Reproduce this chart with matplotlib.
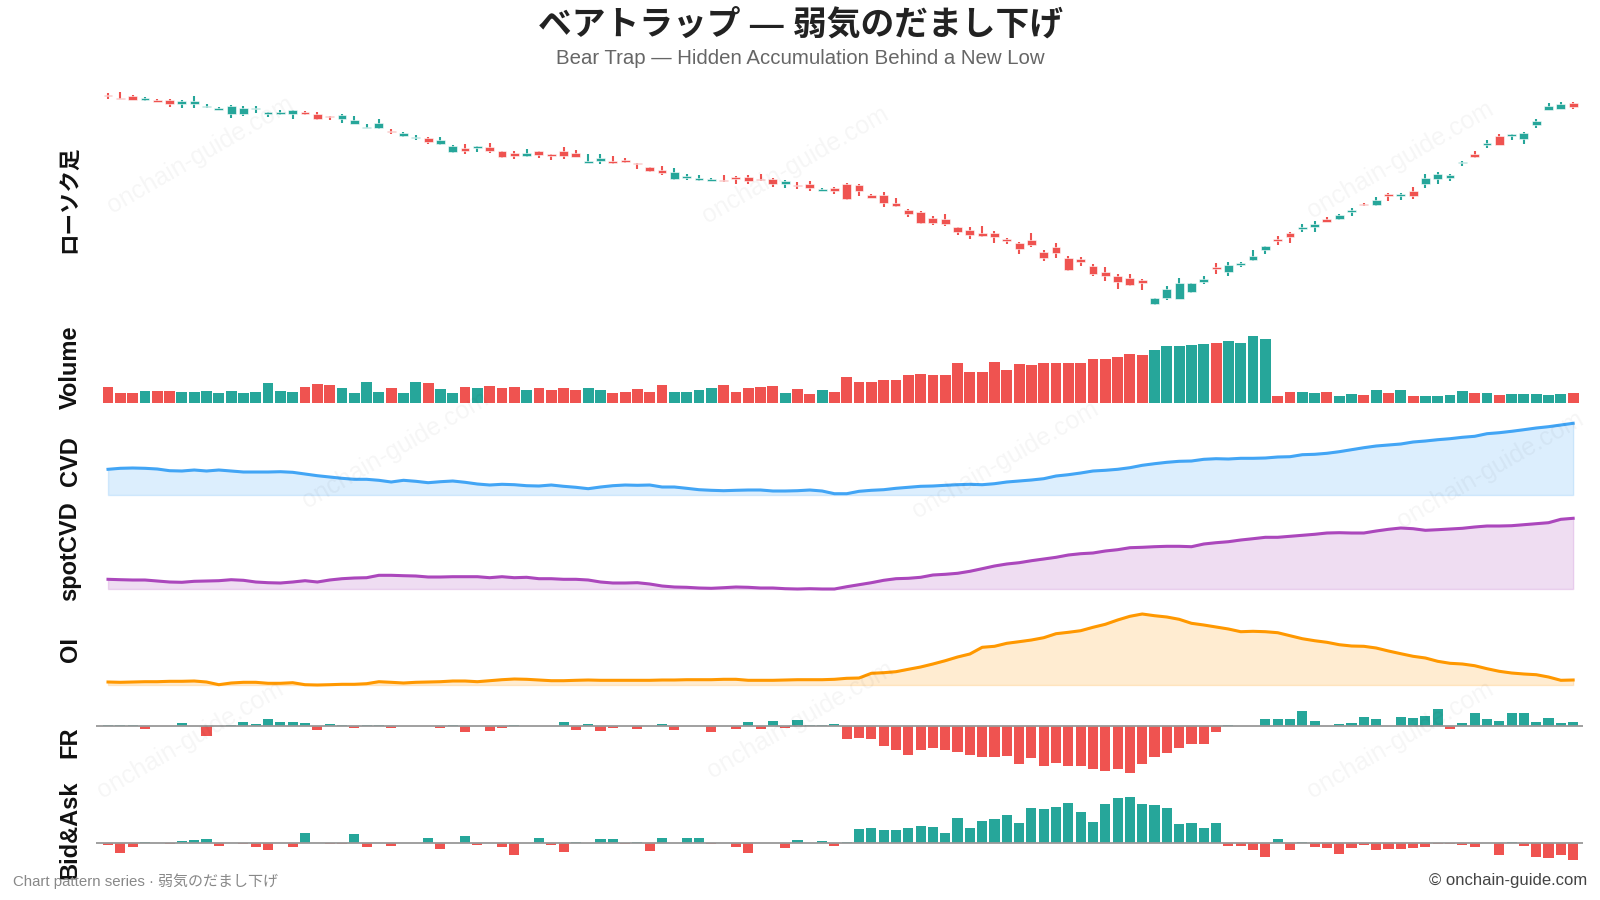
import numpy as np
import matplotlib.pyplot as plt

plt.rcParams['font.family'] = ['Liberation Sans', 'Noto Sans CJK JP', 'DejaVu Sans']

# ローソク足 (price, arbitrary units)
opens = [224.3, 221.8, 224.3, 220, 220, 220, 216, 216, 213.3, 210.3,
         206.3, 206, 210.7, 206.3, 205.7, 206.3, 208.3, 206.3, 204.3, 201.3,
         196, 192.3, 192.3, 189, 184.3, 182.3, 182.3, 176, 168.3, 172,
         172.3, 173, 169, 166.7, 164, 169, 166, 169, 167, 157.3,
         159.3, 159, 160, 156.7, 153, 150, 141, 142, 140, 139.3,
         140.3, 143.3, 143.3, 141.3, 141, 136.3, 135.3, 136.3, 129, 131.7,
         136.3, 135, 125.3, 125, 117, 110.3, 108.3, 102.3, 101, 93,
         90, 87.3, 87.3, 81.3, 77.3, 80, 68, 73.3, 62.3, 61.3,
         54.3, 48.3, 44.3, 42, 40.3, 16, 21.7, 21, 28, 38,
         53.3, 48, 55, 60, 70, 81.3, 87, 91.3, 93.3, 101,
         101.3, 108.3, 116.3, 115, 126.3, 124, 129, 136, 141, 142,
         156.7, 166, 175, 184, 184.3, 181, 195, 210, 211, 216.7]
closes = [224, 221.5, 220.3, 221.7, 218.3, 216.3, 219, 219, 214.3, 212,
          214, 212, 211.7, 208, 208.3, 210, 206.3, 201.3, 202.7, 205.3,
          200, 193.3, 197.3, 188, 187.3, 183.3, 178, 180, 174.3, 169,
          174, 169, 163, 164, 167, 165, 164.3, 164.3, 163, 159.3,
          162.3, 157, 158, 155.7, 149, 147, 148, 144.3, 142.3, 141,
          139, 141.3, 139, 140, 136.3, 139.3, 134, 132, 131.3, 129,
          120.7, 129, 122, 117, 113.7, 106, 96.7, 97.3, 95.7, 88,
          85, 84, 83, 79.3, 71, 75, 62.3, 67.3, 50, 58.3,
          46, 44, 38.3, 35.3, 37, 22, 31, 37.3, 37.3, 41,
          51, 55, 56.7, 64, 74, 79, 83.3, 93.3, 96.3, 98.3,
          105, 110.3, 115, 120, 124.3, 125.7, 124, 142, 146, 145,
          158, 163, 177, 175, 185.7, 187, 199, 214, 216, 213]
highs = [227.3, 228, 225, 223, 221, 221, 220, 224, 215.7, 213,
         215, 214, 214, 208, 209.7, 210, 209, 207.7, 204.3, 206,
         204, 196, 201, 191.3, 188.3, 185.3, 183.3, 182.7, 175, 176,
         174, 177, 169, 169.3, 170.7, 169, 166, 173, 170, 166,
         166, 164, 162, 157.3, 153, 154, 152, 146, 145, 142,
         145, 144, 145, 146, 142, 140, 138, 139, 132, 133,
         137, 136, 126, 128, 122, 111.3, 109.3, 104, 106, 93,
         92.7, 94, 89, 82, 78, 87, 70, 77, 64, 63,
         56, 53, 46, 46, 41, 22, 34, 42, 37.3, 44,
         57, 58, 58.3, 70, 74, 84, 88, 96, 99, 103.3,
         106, 112.3, 117.3, 123, 127.3, 127.3, 133, 146, 148, 146,
         159, 169, 180, 186, 186, 188, 201, 217, 218, 218]
lows = [220.7, 221, 220, 219, 218, 213.3, 212.3, 212.3, 211.7, 210.3,
        202.3, 204.3, 207.3, 203.3, 204.7, 201.3, 204.7, 200.3, 200.3, 197.3,
        196, 192.3, 191.3, 185.7, 182.7, 180.3, 176.3, 175.3, 167.3, 166,
        168, 167.3, 162.3, 161.3, 163.3, 162, 160, 161, 163, 157.3,
        156.3, 156.3, 157.3, 151.3, 148.3, 145.3, 140, 140, 139.3, 139,
        138.3, 136.3, 136.3, 139.3, 133.3, 132.3, 131.3, 129, 129, 126.3,
        120, 124, 122, 113, 113, 103.3, 96, 95, 94, 85,
        81, 83, 77, 76, 66, 73, 59, 62.3, 49, 54.3,
        44, 39.3, 31, 34.3, 30.3, 15, 20, 21, 27, 36,
        46, 44, 53, 59, 66, 75, 77, 88, 88, 98.3,
        100.3, 104.3, 114.3, 114, 119.3, 120.3, 121, 132.3, 136, 139,
        154, 162, 172, 175, 180, 176, 192, 210, 211, 211]

volume = [16, 10, 10, 12, 12, 12, 11, 11, 12, 10,
          12, 10, 11, 20, 12, 11, 16, 19, 18, 15,
          10, 21, 11, 15, 10, 21, 20, 14, 10, 16,
          15, 17, 15, 16, 13, 15, 13, 15, 13, 15,
          13, 10, 11, 14, 11, 18, 11, 11, 13, 15,
          18, 11, 15, 16, 17, 10, 14, 9, 13, 11,
          26, 21, 21, 23, 23, 28, 29, 28, 28, 40,
          31, 31, 41, 33, 39, 38, 40, 40, 40, 40,
          44, 44, 46, 49, 48, 53, 57, 57, 58, 59,
          60, 62, 60, 67, 64, 7, 11, 11, 10, 11,
          7, 9, 8, 13, 10, 13, 7, 7, 7, 8,
          12, 10, 10, 8, 9, 9, 9, 8, 9, 10]

cvd = [25.7, 26.7, 27, 26.7, 26, 24.3, 24, 25, 24, 25,
       24, 23, 23, 23, 23.3, 22.7, 21, 19.3, 18, 16.7,
       15.7, 15.7, 14.7, 13, 14.7, 13.7, 12.3, 13.3, 14, 12.7,
       11, 10, 10.7, 10.3, 9.3, 9, 10, 8.7, 7.7, 6.3,
       8, 9.3, 10, 9.7, 10, 8, 8, 6.7, 5.3, 4.7,
       4.3, 4.7, 5, 5, 4, 4, 4.3, 5, 4, 1.3,
       1.3, 3.7, 4.7, 5.3, 6.7, 7.7, 8.7, 9, 9.7, 10.3,
       10.7, 10.3, 11.3, 13, 14, 15, 16.3, 19, 20.3, 22,
       24, 24.7, 25.7, 27.3, 29.7, 31.3, 32.7, 33.7, 34, 35.7,
       36.3, 36, 36.7, 36.7, 37, 38, 38.3, 40.3, 40.7, 41.7,
       43.3, 45.3, 47.3, 49, 50, 51, 53, 54, 55.3, 56.3,
       57.7, 58.7, 61.3, 62.3, 63.7, 65.3, 67, 68.3, 70, 71.7]

spot_cvd = [9.7, 9.3, 9, 9, 8, 7, 6.7, 7.7, 8, 8.3,
            9.3, 8.7, 7, 6.3, 6, 7, 8.3, 7, 9, 10.3,
            11, 11.3, 13.7, 13.7, 13.3, 13, 12, 12, 12.3, 12.3,
            12.3, 11.3, 12.3, 11.3, 11.7, 10.3, 10.3, 9.7, 9.7, 9,
            7, 6, 6, 6.3, 5, 3, 2, 1.7, 1, 0.7,
            1.3, 2, 1.7, 1, 1, 0.3, 0, 0.3, 0, 0,
            2.3, 4.3, 6.3, 8.7, 10.3, 10.7, 11.7, 14, 14.7, 15.7,
            17.7, 20.3, 23, 25, 26.3, 28.3, 30, 31.7, 34, 35.3,
            36, 38, 39.3, 41.3, 41.7, 42.3, 42.7, 42.7, 42.3, 45,
            46.3, 47.3, 49, 50.3, 51.7, 51.7, 52.7, 53.7, 54.7, 56,
            56.3, 56, 56, 58, 59.7, 61, 60.3, 58.7, 59.3, 60,
            60.7, 62, 63, 63, 63.3, 64.3, 65.3, 66.3, 69.7, 70.7]

oi = [3, 2.7, 3, 3.3, 3.3, 3.7, 3.7, 4, 3, 0.3,
      2, 2.7, 2.7, 1.7, 1.7, 2.3, 0.3, 0, 0.3, 0.7,
      0.7, 1.3, 3.3, 2.7, 2, 2.7, 3, 3.3, 4, 4,
      3.3, 4.3, 5.3, 6, 5.7, 5, 4.3, 4.3, 4.7, 5,
      4.7, 4.7, 4.7, 4.7, 4.7, 5, 5, 5.3, 5.3, 5.3,
      5.7, 5.7, 4.7, 4.7, 4.7, 5, 5.3, 5.3, 5.3, 5.7,
      6.7, 7, 11.7, 12.3, 13.3, 15.7, 18, 21, 24.3, 28,
      31, 37.7, 38.7, 41.7, 43.3, 45, 47.3, 51.3, 52.7, 54.3,
      57.7, 60.7, 65, 68.7, 71, 69.3, 68, 65.7, 61.7, 60,
      58, 56, 53.3, 53.7, 53.3, 52.3, 49.3, 46.3, 44.3, 42.7,
      40.3, 39, 38.7, 37, 34, 31.3, 28.7, 27, 23.7, 21.7,
      21, 19.3, 16.3, 13.7, 12, 11, 10.3, 8, 4.7, 5]

funding = [1, 1, 1, -2.7, -0.3, 0, 3, 0, -9.7, -0.3,
           1.3, 4, 2.3, 7, 4, 4, 3, -3.7, 2, 1,
           -1.7, 1, 1, -1.7, -0.3, -0.3, 0, -1.7, 1, -6,
           -0.3, -4.7, -1.7, 1, 0, -0.3, 0, 4, -3.7, 2,
           -4.7, -1.7, 0, -2.7, 0, 2, -3.7, -0.3, -0.3, -6,
           -0.3, -2.7, 4, -2.7, 5, -1.7, 6.3, 1.3, 1.3, 2.3,
           -12.7, -11.7, -12.7, -19.7, -23.7, -28.7, -23.7, -21.7, -23.7, -25.7,
           -28.7, -30.7, -30.7, -29.7, -37.7, -31.7, -39.7, -36.7, -39.7, -39.7,
           -42.7, -44.7, -42.7, -46.7, -37.7, -30.7, -26.7, -21.7, -17.7, -17.7,
           -5.7, 1.3, 0, 0, 7, 7, 7, 15, 5, 0,
           2, 3, 9, 7, 0, 9, 8, 10, 17, -2.7,
           3, 13, 7, 5, 13, 13, 4, 8, 3, 4]

bid_ask = [-2.3, -10.3, -4.3, 1.3, 0, -1.3, 2.3, 3.3, 4.3, -3.3,
           0, -1.3, -4.3, -7.3, 0, -4.3, 10.3, 0, -1.3, -1.3,
           9.3, -4.3, 0, -3.3, 0, 0, 5.3, -6.3, 0, 7.3,
           -2.3, 0, -4.3, -12.3, 0, 5.3, -2.3, -9.3, 1.3, 0,
           4.3, 4.3, -1.3, 1.3, -8.3, 5.3, 0, 5.3, 5.3, -1.3,
           0, -4.3, -10.3, 0, 0, -5.3, 3.3, 0, 2.3, -3.3,
           1.3, 14.3, 15.3, 13.3, 13.3, 15.3, 17.3, 16.3, 10.3, 25.3,
           15.3, 22.3, 24.3, 28.3, 20.3, 35.3, 34.3, 36.3, 40.3, 31.3,
           21.3, 39.3, 45.3, 46.3, 39.3, 38.3, 35.3, 19.3, 20.3, 15.3,
           20.3, -3.3, -3.3, -7.3, -14.3, 4.3, -7.3, 1.3, -4.3, -5.3,
           -11.3, -5.3, -2.3, -7.3, -6.3, -6.3, -5.3, -4.3, -1.3, -1.3,
           -2.3, -4.3, 0, -12.3, 1.3, -3.3, -14.3, -15.3, -12.3, -17.3]

panel_labels = ['ローソク足', 'Volume', 'CVD', 'spotCVD', 'OI', 'FR', 'Bid&Ask']

UP = '#26a69a'
DOWN = '#ef5350'

o = np.array(opens)
c = np.array(closes)
h = np.array(highs)
l = np.array(lows)
x = np.arange(len(o))
cols = np.where(c >= o, UP, DOWN)

W, H = 1600, 900
fig = plt.figure(figsize=(16, 9), dpi=100)


def panel(top, bottom):
    ax = fig.add_axes([96 / W, 1 - bottom / H, (1583 - 96) / W, (bottom - top) / H])
    ax.set_xlim(-0.975, 119.8)
    ax.axis('off')
    return ax


# candles
ax = panel(85, 312)
ax.vlines(x, l, h, colors=cols, linewidth=1.5, zorder=2)
body = np.maximum(np.abs(c - o), 0.8)
ax.bar(x, body, bottom=np.minimum(o, c), width=0.72, color=cols,
       edgecolor='white', linewidth=0.4, zorder=3)
ax.set_ylim(8, 235)

# volume
ax = panel(328, 403)
ax.bar(x, volume, width=0.88, color=cols)
ax.set_ylim(0, 75)

# CVD / spotCVD / OI
for (top, bot, lo, hi), vals, col in [((410, 500, -5, 85), cvd, '#42a5f5'),
                                      ((505, 593, -4, 84), spot_cvd, '#ab47bc'),
                                      ((600, 690, -5, 85), oi, '#ff9800')]:
    ax = panel(top, bot)
    ax.fill_between(x, vals, 0, color=col, alpha=0.18, linewidth=1)
    ax.plot(x, vals, color=col, linewidth=2.2)
    ax.set_ylim(lo, hi)

# FR / Bid&Ask
for (top, bot, lo, hi), vals in [((700, 785, -59, 26), funding),
                                 ((790, 870, -27, 53), bid_ask)]:
    ax = panel(top, bot)
    v = np.array(vals)
    ax.bar(x, v, width=0.82, color=np.where(v >= 0, UP, DOWN))
    ax.axhline(0, color='#999999', linewidth=1.3)
    ax.set_ylim(lo, hi)

# panel labels
for lab, yc in zip(panel_labels, [199, 367, 461, 551, 649, 742, 830]):
    fs = 15.5 if lab == 'ローソク足' else 17
    fig.text(70 / W, 1 - yc / H, lab, rotation=90, ha='center', va='center',
             fontsize=fs, fontweight='bold', color='#111')

# watermark
for wx, wy in [(200, 155), (795, 165), (1400, 160),
               (395, 450), (1005, 460), (1490, 470),
               (190, 740), (800, 720), (1400, 740)]:
    fig.text(wx / W, 1 - wy / H, 'onchain-guide.com', rotation=30,
             ha='center', va='center', fontsize=18, color='#000', alpha=0.04)

fig.text(0.5, 1 - 25 / H, 'ベアトラップ — 弱気のだまし下げ', ha='center', va='center',
         fontsize=24.3, fontweight='bold', color='#222')
fig.text(0.5, 1 - 58.5 / H, 'Bear Trap — Hidden Accumulation Behind a New Low',
         ha='center', va='center', fontsize=14.7, color='#666')
fig.text(13 / W, 1 - 881 / H, 'Chart pattern series · 弱気のだまし下げ',
         ha='left', va='center', fontsize=10.8, color='#888')
fig.text(1587 / W, 1 - 881 / H, '© onchain-guide.com',
         ha='right', va='center', fontsize=12, color='#444')

fig.savefig('out.png', dpi=100, facecolor='white')
